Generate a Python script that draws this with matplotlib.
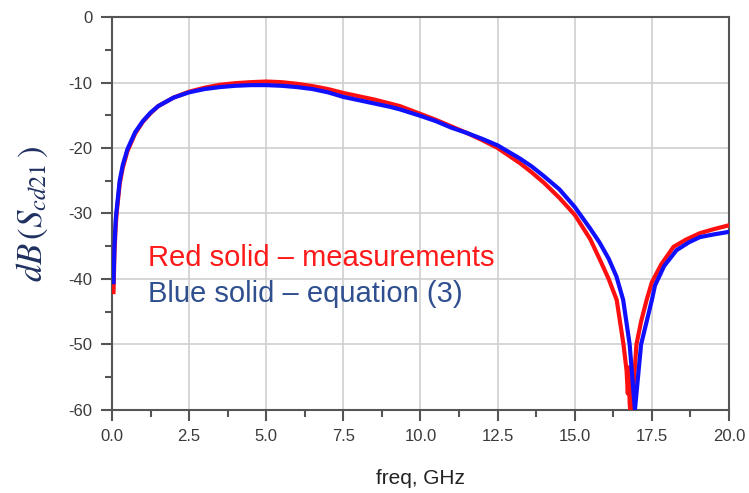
import numpy as np
import matplotlib
matplotlib.use("Agg")
import matplotlib.pyplot as plt
from matplotlib.ticker import MultipleLocator, FormatStrFormatter

plt.rcParams["axes.unicode_minus"] = False
plt.rcParams["mathtext.fontset"] = "stix"

# measured curve (red)
f_meas = [0.05, 0.08, 0.12, 0.15, 0.25, 0.35, 0.5, 0.75, 1.0, 1.25, 1.5, 2.0,
          2.5, 3.0, 3.5, 4.0, 4.5, 5.0, 5.5, 6.0, 6.5, 7.0, 7.5, 8.0, 8.5, 9.0,
          9.33, 10.0, 10.5, 11.0, 11.5, 12.0, 12.5, 13.22, 13.6, 14.0, 14.5,
          15.0, 15.5, 15.82, 16.1, 16.36, 16.58, 16.68, 16.72, 16.75, 16.78,
          16.8, 16.83, 16.86, 16.9, 17.0, 17.15, 17.33, 17.5, 17.8, 18.2, 18.6,
          19.06, 19.5, 20.0]
db_meas = [-42.0, -36.0, -32.0, -30.0, -25.5, -23.0, -20.5, -17.8, -16.0, -14.7,
           -13.6, -12.3, -11.4, -10.8, -10.35, -10.1, -9.95, -9.85, -9.95, -10.2,
           -10.55, -11.0, -11.6, -12.1, -12.6, -13.2, -13.6, -14.8, -15.7, -16.7,
           -17.7, -18.8, -20.0, -22.3, -23.7, -25.3, -27.6, -30.2, -33.9, -37.1,
           -40.0, -43.2, -50.0, -54.0, -57.5, -53.5, -59.0, -60.0, -56.0, -60.0,
           -57.0, -50.0, -46.5, -43.2, -40.5, -37.8, -35.1, -34.0, -33.0, -32.4,
           -31.8]

# equation (3) curve (blue)
f_eq = [0.05, 0.08, 0.12, 0.15, 0.25, 0.35, 0.5, 0.75, 1.0, 1.25, 1.5, 2.0,
        2.5, 3.0, 3.5, 4.0, 4.5, 5.0, 5.5, 6.0, 6.5, 7.0, 7.5, 8.0, 8.5, 9.0,
        9.33, 10.0, 10.5, 11.0, 11.5, 12.0, 12.5, 13.22, 13.6, 14.0, 14.5,
        15.0, 15.5, 15.8, 16.1, 16.35, 16.57, 16.78, 16.95, 17.15, 17.5, 17.6,
        17.9, 18.3, 18.7, 19.06, 19.5, 20.0]
db_eq = [-40.5, -35.0, -31.0, -29.5, -25.0, -22.6, -20.2, -17.6, -15.9, -14.6,
         -13.6, -12.3, -11.5, -11.0, -10.7, -10.5, -10.4, -10.4, -10.5, -10.7,
         -11.0, -11.5, -12.2, -12.7, -13.2, -13.7, -14.1, -15.1, -15.9, -16.9,
         -17.7, -18.6, -19.6, -21.6, -22.8, -24.3, -26.3, -29.0, -32.3, -34.4,
         -36.9, -39.6, -43.2, -50.0, -60.0, -50.0, -43.2, -41.0, -38.0, -35.6,
         -34.4, -33.6, -33.2, -32.8]

fig = plt.figure(figsize=(7.49, 4.93), dpi=100)
ax = fig.add_axes([0.1495, 0.1684, 0.8238, 0.7971])

ax.plot(f_meas, db_meas, color="#ff1010", lw=3, solid_joinstyle="round", zorder=3)
ax.plot(f_eq, db_eq, color="#1010ff", lw=3, solid_joinstyle="round", zorder=3)

ax.set_xlim(0, 20)
ax.set_ylim(-60, 0)
ax.xaxis.set_major_locator(MultipleLocator(2.5))
ax.xaxis.set_minor_locator(MultipleLocator(1.25))
ax.yaxis.set_major_locator(MultipleLocator(10))
ax.yaxis.set_minor_locator(MultipleLocator(5))
ax.xaxis.set_major_formatter(FormatStrFormatter("%.1f"))
ax.yaxis.set_major_formatter(FormatStrFormatter("%d"))

ax.grid(True, which="major", color="#cfcfcf", lw=1.2)
ax.set_axisbelow(True)
for s in ax.spines.values():
    s.set_color("#555555")
    s.set_linewidth(1.5)
ax.tick_params(which="major", direction="out", length=8, width=1.5, color="#555555",
               labelsize=12, labelcolor="#3a3a3a", pad=6)
ax.tick_params(which="minor", direction="out", length=5, width=1.5, color="#555555")
for lab in ax.get_xticklabels() + ax.get_yticklabels():
    lab.set_fontfamily("Liberation Sans")

ax.set_xlabel("freq, GHz", fontsize=15, family="Liberation Sans", color="#222222")
ax.xaxis.set_label_coords(0.5, -0.15)
ax.set_ylabel(r"$dB\,(S_{cd21}\,)$", fontsize=25, color="#1f3060")
ax.yaxis.set_label_coords(-0.1, 0.5)

ax.text(1.17, -38.0, "Red solid \u2013 measurements", color="#ff1a1a", fontsize=21,
        family="Liberation Sans", va="baseline", ha="left")
ax.text(1.17, -43.5, "Blue solid \u2013 equation (3)", color="#2f4f8f", fontsize=21,
        family="Liberation Sans", va="baseline", ha="left")

fig.savefig("out.png", dpi=100)
